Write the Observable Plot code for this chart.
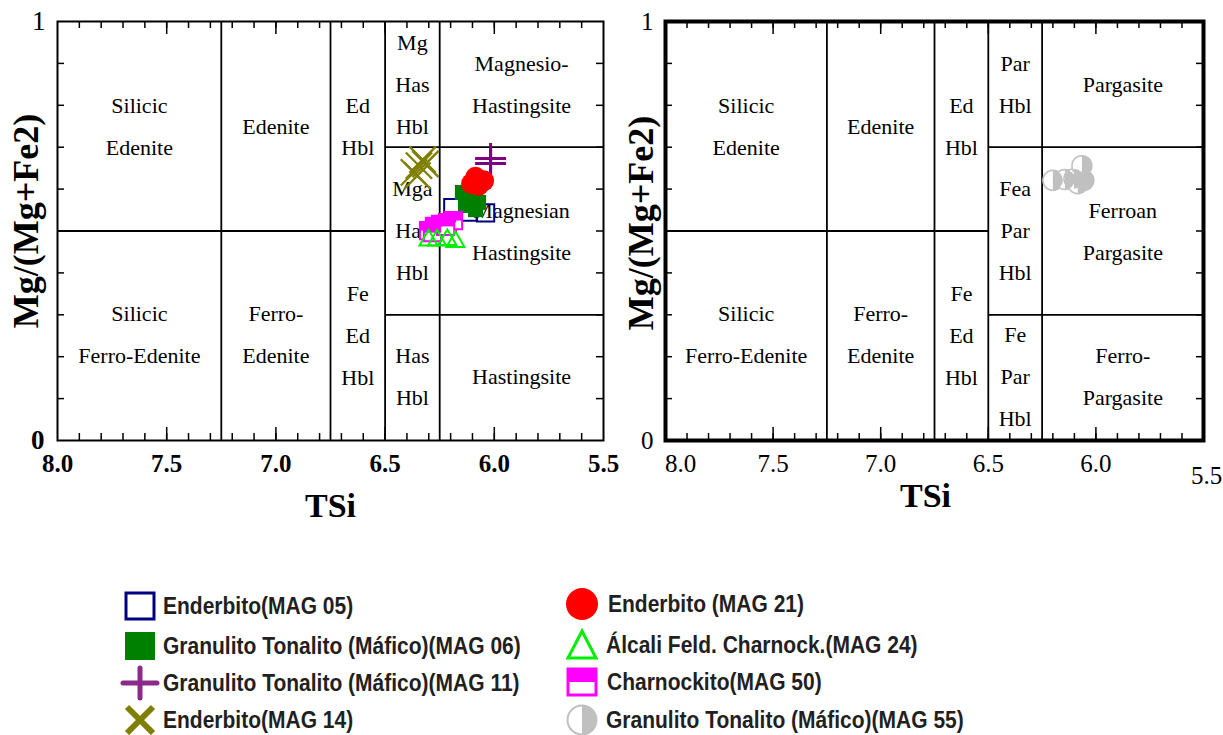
<!DOCTYPE html>
<html><head><meta charset="utf-8">
<script src="https://cdn.jsdelivr.net/npm/d3@7"></script>
<script src="https://cdn.jsdelivr.net/npm/@observablehq/plot@0.6"></script>
<style>
body{margin:0;background:#fff;}
#wrap{position:relative;width:1223px;height:735px;overflow:hidden;background:#fff;}
.panel{position:absolute;top:0;}
.leg{position:absolute;display:flex;align-items:center;height:36px;font-family:"Liberation Sans",Arial,sans-serif;font-weight:bold;font-size:21px;color:#231f20;white-space:nowrap;}
.leg svg{flex:none;}
.leg span{display:inline-block;transform:scaleY(1.15);transform-origin:50% 50%;}
</style></head>
<body><div id="wrap"><div id="left" class="panel" style="left:0"></div><div id="right" class="panel" style="left:612px"></div><div id="legend"></div></div>
<script>
// ---------- data ----------
const xTickLabels = [8.0, 7.5, 7.0, 6.5, 6.0, 5.5];
const MAG05 = [[6.190, 0.556], [6.120, 0.545], [6.040, 0.543]];
const MAG06 = [[6.146, 0.592], [6.118, 0.578], [6.095, 0.561], [6.072, 0.568], [6.132, 0.561], [6.100, 0.585], [6.086, 0.551]];
const MAG11 = [[6.017, 0.673], [6.017, 0.661]];
const MAG14 = [[6.368, 0.640], [6.345, 0.656], [6.328, 0.670], [6.315, 0.660], [6.352, 0.632]];
const MAG21 = [[6.104, 0.613], [6.086, 0.628], [6.049, 0.620], [6.072, 0.609]];
const MAG24 = [[6.301, 0.478], [6.262, 0.478], [6.178, 0.474], [6.215, 0.479]];
const MAG50 = [[6.301, 0.501], [6.274, 0.511], [6.246, 0.516], [6.214, 0.520], [6.187, 0.525], [6.283, 0.496], [6.223, 0.511]];
const MAG55 = [[6.200, 0.621], [6.144, 0.623], [6.102, 0.625], [6.056, 0.621], [6.065, 0.656], [6.084, 0.613]];

// field boundaries (same for both diagrams)
const vBounds = [[7.25, 0, 1], [6.75, 0, 1], [6.5, 0, 1], [6.25, 0, 1]];
const hBounds = [[0.5, 8.0, 6.5], [0.7, 6.5, 5.5], [0.3, 6.5, 5.5]];

const leftLabels = [
  ["Silicic\nEdenite", 7.625, 0.747], ["Edenite", 7.0, 0.747], ["Ed\nHbl", 6.625, 0.747],
  ["Mg\nHas\nHbl", 6.375, 0.847], ["Magnesio-\nHastingsite", 5.875, 0.847],
  ["Mga\nHas\nHbl", 6.375, 0.499], ["Magnesian\nHastingsite", 5.875, 0.496],
  ["Silicic\nFerro-Edenite", 7.625, 0.25], ["Ferro-\nEdenite", 7.0, 0.25], ["Fe\nEd\nHbl", 6.625, 0.248],
  ["Has\nHbl", 6.375, 0.15], ["Hastingsite", 5.875, 0.15]
];
const rightLabels = [
  ["Silicic\nEdenite", 7.625, 0.747], ["Edenite", 7.0, 0.747], ["Ed\nHbl", 6.625, 0.747],
  ["Par\nHbl", 6.375, 0.847], ["Pargasite", 5.875, 0.847],
  ["Fea\nPar\nHbl", 6.375, 0.499], ["Ferroan\nPargasite", 5.875, 0.496],
  ["Silicic\nFerro-Edenite", 7.625, 0.25], ["Ferro-\nEdenite", 7.0, 0.25], ["Fe\nEd\nHbl", 6.625, 0.248],
  ["Fe\nPar\nHbl", 6.375, 0.15], ["Ferro-\nPargasite", 5.875, 0.15]
];

const legendItems = [
  ["Enderbito(MAG 05)", "sq"], ["Granulito Tonalito (Máfico)(MAG 06)", "fsq"],
  ["Granulito Tonalito (Máfico)(MAG 11)", "plus"], ["Enderbito(MAG 14)", "x"],
  ["Enderbito (MAG 21)", "circ"], ["Álcali Feld. Charnock.(MAG 24)", "tri"],
  ["Charnockito(MAG 50)", "hsq"], ["Granulito Tonalito (Máfico)(MAG 55)", "hcirc"]
];

// ---------- helpers ----------
const serif = "Liberation Serif, Times New Roman, serif";
const minorX = d3.range(79, 55, -1).map(d => d / 10);
const majorX = [7.5, 7.0, 6.5, 6.0];
const minorY = d3.range(1, 10).map(d => d / 10);
const fmt1 = d3.format(".1f");
const fmt0 = d3.format("d");

const topHalfSquare = {draw(ctx, size) { const h = Math.sqrt(size) * 0.4431; ctx.rect(-h, -h, 2 * h, h); }};
const rightHalfCircle = {draw(ctx, size) { const r = Math.sqrt(size / Math.PI); ctx.moveTo(0, -r); ctx.arc(0, 0, r, -Math.PI / 2, Math.PI / 2); ctx.closePath(); }};

function frameMarks(fw, fh, frameWidth) {
  return [
    Plot.link(vBounds, {x1: d => d[0], x2: d => d[0], y1: d => d[1], y2: d => d[2], stroke: "black", strokeWidth: 1.8}),
    Plot.link(hBounds, {y1: d => d[0], y2: d => d[0], x1: d => d[1], x2: d => d[2], stroke: "black", strokeWidth: 1.8}),
    Plot.tickX(minorX, {x: d => d, insetTop: fh - 7, stroke: "black", strokeWidth: 1.5}),
    Plot.tickX(majorX, {x: d => d, insetTop: fh - 13, stroke: "black", strokeWidth: 1.5}),
    Plot.tickX(minorX, {x: d => d, insetBottom: fh - 7, stroke: "black", strokeWidth: 1.5}),
    Plot.tickX(majorX, {x: d => d, insetBottom: fh - 13, stroke: "black", strokeWidth: 1.5}),
    Plot.tickY(minorY, {y: d => d, insetRight: fw - 7, stroke: "black", strokeWidth: 1.5}),
    Plot.tickY(minorY, {y: d => d, insetLeft: fw - 7, stroke: "black", strokeWidth: 1.5}),
    Plot.frame({stroke: "black", strokeWidth: frameWidth})
  ];
}
function labelMarks(labels) {
  return Plot.text(labels, {x: d => d[1], y: d => d[2], text: d => d[0], dy: -7, fontSize: 22, fontFamily: serif, lineHeight: 1.9, fill: "black"});
}

// ---------- left panel ----------
const LW = 612, LH = 545, LML = 57, LMR = 9, LMT = 21, LMB = 105;
const left = Plot.plot({
  width: LW, height: LH, marginLeft: LML, marginRight: LMR, marginTop: LMT, marginBottom: LMB,
  style: {fontFamily: serif, color: "black", background: "transparent", overflow: "visible"},
  x: {domain: [8, 5.5]}, y: {domain: [0, 1]},
  marks: [
    labelMarks(leftLabels),
    ...frameMarks(LW - LML - LMR, LH - LMT - LMB, 2),
    Plot.axisX({ticks: xTickLabels, tickSize: 0, tickPadding: 14, tickFormat: fmt1, fontSize: 25, fontWeight: "bold", fontFamily: serif, label: null}),
    Plot.axisY({ticks: [1], tickSize: 0, tickPadding: 12, tickFormat: fmt0, fontSize: 27, fontFamily: serif, label: null}),
    Plot.axisY({ticks: [0], tickSize: 0, tickPadding: 13, tickFormat: fmt0, fontSize: 27, fontWeight: "bold", fontFamily: serif, label: null}),
    Plot.text(["TSi"], {frameAnchor: "bottom", dy: 76, fontSize: 34, fontWeight: "bold", fontFamily: serif, text: d => d}),
    Plot.text(["Mg/(Mg+Fe2)"], {frameAnchor: "left", textAnchor: "middle", rotate: -90, dx: -31, dy: -10, fontSize: 36, fontWeight: "bold", fontFamily: serif, text: d => d}),
    // data
    Plot.dot(MAG14, {x: d => d[0], y: d => d[1], symbol: "times", r: 12, stroke: "#808000", strokeWidth: 2.3}),
    Plot.dot(MAG05, {x: d => d[0], y: d => d[1], symbol: "square2", r: 11, stroke: "#000080", strokeWidth: 2, fill: "none"}),
    Plot.dot(MAG06, {x: d => d[0], y: d => d[1], symbol: "square", r: 8.5, fill: "#008000", stroke: "none"}),
    Plot.dot(MAG11, {x: d => d[0], y: d => d[1], symbol: "plus", r: 10, stroke: "#800080", strokeWidth: 3}),
    Plot.dot(MAG21, {x: d => d[0], y: d => d[1], symbol: "circle", r: 10.5, fill: "#ff0000", stroke: "none"}),
    Plot.dot(MAG50, {x: d => d[0], y: d => d[1], symbol: "square2", r: 11, stroke: "#ff00ff", strokeWidth: 2, fill: "white"}),
    Plot.dot(MAG50, {x: d => d[0], y: d => d[1], symbol: topHalfSquare, r: 11, fill: "#ff00ff", stroke: "none"}),
    Plot.dot(MAG24, {x: d => d[0], y: d => d[1], symbol: "triangle2", r: 8.6, stroke: "#00ee00", strokeWidth: 2, fill: "none"})
  ]
});
document.getElementById("left").append(left);

// ---------- right panel ----------
const RW = 611, RH = 545, RML = 53, RMR = 20, RMT = 21, RMB = 105;
const right = Plot.plot({
  width: RW, height: RH, marginLeft: RML, marginRight: RMR, marginTop: RMT, marginBottom: RMB,
  style: {fontFamily: serif, color: "black", background: "transparent", overflow: "visible"},
  x: {domain: [8, 5.5]}, y: {domain: [0, 1]},
  marks: [
    labelMarks(rightLabels),
    ...frameMarks(RW - RML - RMR, RH - RMT - RMB, 4),
    Plot.axisX({ticks: xTickLabels.slice(1, 5), tickSize: 0, tickPadding: 14, tickFormat: fmt1, fontSize: 25, fontFamily: serif, label: null}),
    Plot.axisX({ticks: xTickLabels.slice(0, 1), tickSize: 0, tickPadding: 14, dx: 15, tickFormat: fmt1, fontSize: 25, fontFamily: serif, label: null}),
    Plot.axisX({ticks: xTickLabels.slice(5), tickSize: 0, tickPadding: 14, dx: 3, dy: 12, tickFormat: fmt1, fontSize: 25, fontFamily: serif, label: null}),
    Plot.axisY({ticks: [0, 1], tickSize: 0, tickPadding: 12, tickFormat: fmt0, fontSize: 25, fontFamily: serif, label: null}),
    Plot.text(["TSi"], {frameAnchor: "bottom", dx: -9, dy: 66, fontSize: 34, fontWeight: "bold", fontFamily: serif, text: d => d}),
    Plot.text(["Mg/(Mg+Fe2)"], {frameAnchor: "left", textAnchor: "middle", rotate: -90, dx: -24, dy: -8, fontSize: 36, fontWeight: "bold", fontFamily: serif, text: d => d}),
    Plot.dot(MAG55, {x: d => d[0], y: d => d[1], symbol: "circle", r: 10, fill: "white", stroke: "#c0c0c0", strokeWidth: 1.5}),
    Plot.dot(MAG55, {x: d => d[0], y: d => d[1], symbol: rightHalfCircle, r: 10, fill: "#c0c0c0", stroke: "none"})
  ]
});
document.getElementById("right").append(right);

// ---------- legend ----------
const symbolSvg = {
  sq: '<rect x="6" y="5" width="28" height="26" fill="none" stroke="#000080" stroke-width="3"/>',
  fsq: '<rect x="5" y="4" width="30" height="28" fill="#008000"/>',
  plus: '<path d="M3,18H37M20,3V33" stroke="#8b2a8b" stroke-width="5" stroke-linecap="round"/>',
  x: '<path d="M7,5L33,31M33,5L7,31" stroke="#808000" stroke-width="6"/>',
  circ: '<circle cx="20" cy="18" r="16" fill="#ff0000"/>',
  tri: '<path d="M20,4L34,31H6Z" fill="none" stroke="#00ee00" stroke-width="3"/>',
  hsq: '<rect x="6" y="5" width="28" height="26" fill="white" stroke="#ff00ff" stroke-width="3"/><rect x="6" y="5" width="28" height="13" fill="#ff00ff"/>',
  hcirc: '<circle cx="20" cy="18" r="14.5" fill="white" stroke="#c0c0c0" stroke-width="2"/><path d="M20,3.5A14.5,14.5 0 0 1 20,32.5Z" fill="#c0c0c0"/>'
};
const legendPos = [[120, 588], [120, 628], [120, 665], [120, 702], [562, 586], [562, 627], [562, 664], [562, 702]];
const legendGap = [3, 3, 3, 3, 6, 4, 5, 4];
const legend = document.getElementById("legend");
legendItems.forEach(([label, sym], i) => {
  const div = document.createElement("div");
  div.className = "leg";
  div.style.left = legendPos[i][0] + "px";
  div.style.top = legendPos[i][1] + "px";
  div.innerHTML = `<svg width="40" height="36" viewBox="0 0 40 36">${symbolSvg[sym]}</svg><span style="margin-left:${legendGap[i]}px">${label}</span>`;
  legend.append(div);
});
</script></body></html>
